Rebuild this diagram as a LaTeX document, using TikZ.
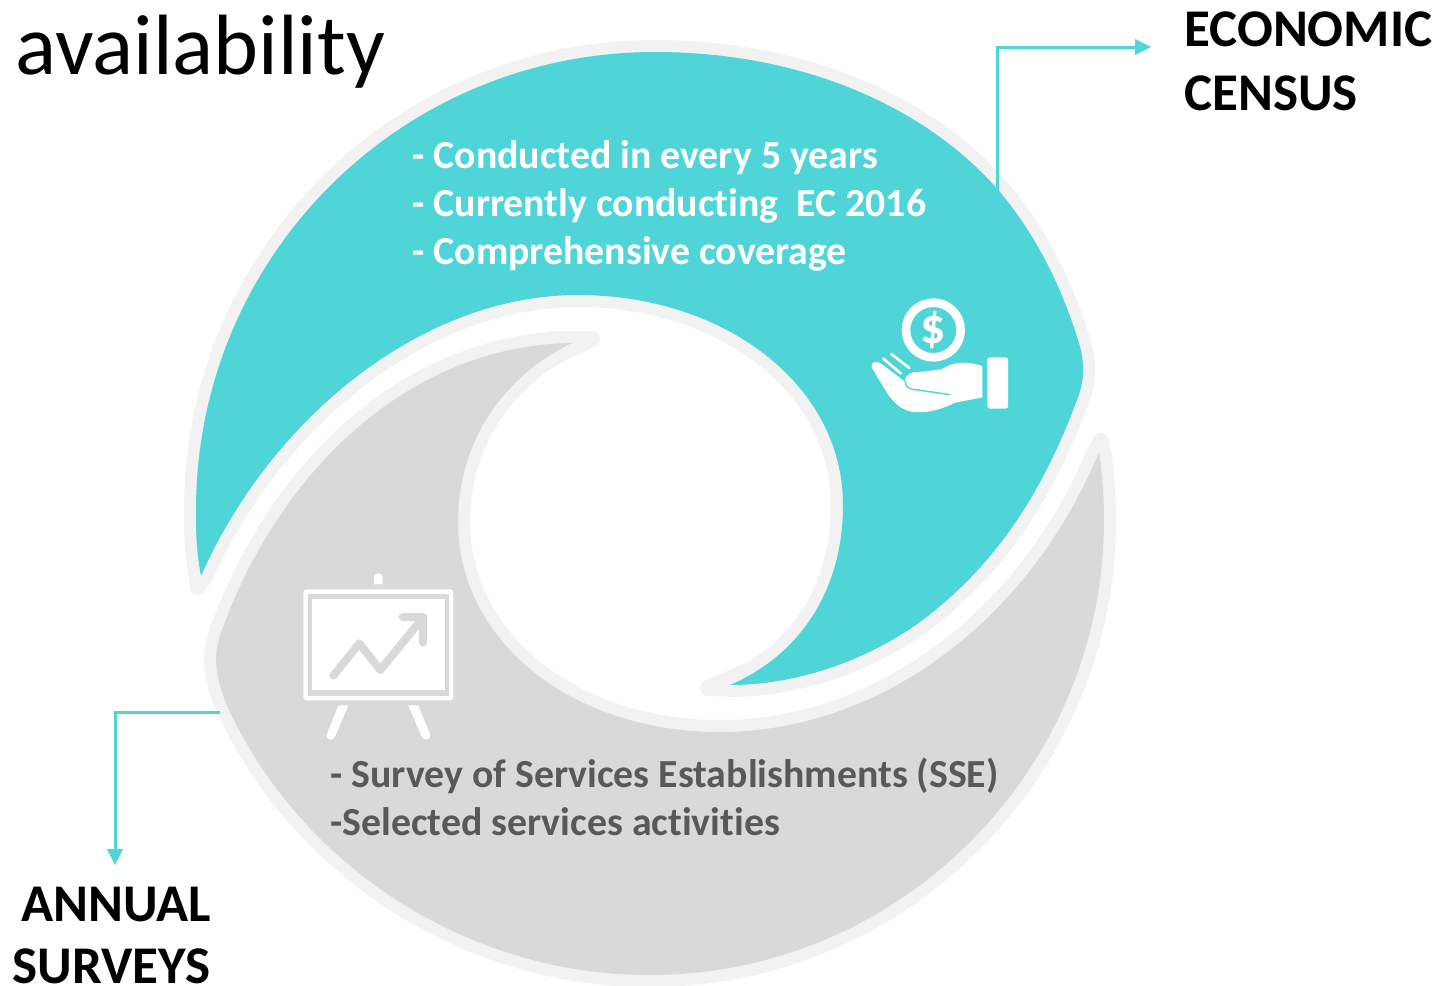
\documentclass[tikz,border=0pt]{standalone}
\usepackage{fontspec}
\setmainfont{Carlito}[Ligatures=NoCommon]
\definecolor{teal1}{HTML}{4FD4D8}
\definecolor{gray1}{HTML}{D9D9D9}
\definecolor{rim}{HTML}{F2F2F2}
\definecolor{txtg}{HTML}{595959}
\tikzset{
  rimline/.style={draw=rim,fill=rim,line width=12pt,line join=round},
  rimtip/.style={draw=rim,fill=rim,line width=8pt,line join=round},
  conn/.style={draw=teal1,line width=1.5pt},
  conntip/.style={fill=teal1,draw=none},
  bodytxt/.style={font=\fontsize{19.9}{24}\selectfont\bfseries,anchor=base west,inner sep=0pt},
  headtxt/.style={font=\fontsize{26.5}{32}\selectfont\bfseries,anchor=base west,inner sep=0pt},
  iconw/.style={fill=white,draw=none},
  chartln/.style={draw=gray1,line width=4pt,line cap=round,line join=round},
}
\def\tealshape{(201,576) .. controls (196,550) and (196,530) .. (196,510)
  .. controls (196,257) and (400,52) .. (655,52)
  .. controls (800,52) and (925,105) .. (1000,192)
  .. controls (1040,240) and (1065,295) .. (1081,350)
  .. controls (1085,370) and (1083,385) .. (1077,400)
  .. controls (1040,500) and (990,570) .. (920,622)
  .. controls (860,665) and (790,685) .. (730,685)
  .. controls (800,655) and (843,590) .. (843,505)
  .. controls (843,385) and (725,295) .. (578,295)
  .. controls (420,295) and (270,420) .. (201,576) -- cycle}
\def\grayshape{(1099,452) .. controls (1103,480) and (1104,500) .. (1104,520)
  .. controls (1104,770) and (900,975) .. (650,975)
  .. controls (460,975) and (300,860) .. (230,712)
  .. controls (215,680) and (212,655) .. (222,630)
  .. controls (280,470) and (410,345) .. (572,343)
  .. controls (505,375) and (458,440) .. (458,522)
  .. controls (458,640) and (570,732) .. (720,732)
  .. controls (880,732) and (1030,620) .. (1099,452) -- cycle}
\begin{document}
\begin{tikzpicture}[x=0.5pt,y=-0.5pt]
\useasboundingbox (0,0) rectangle (1447,986);
\fill[white] (0,0) rectangle (1447,986);
% gray blade
\draw[rimline] \grayshape;
\draw[rimtip] (1101,441) -- (1087,472) -- (1102,480) -- cycle;
\draw[rimtip] (592,339) -- (552,339) -- (548,360) -- cycle;
% teal blade
\draw[rimline] \tealshape;
\draw[rimtip] (198,587) -- (195,560) -- (208,565) -- cycle;
\draw[rimtip] (708,688) -- (745,672) -- (745,688) -- cycle;
\fill[gray1] \grayshape;
\fill[teal1] \tealshape;
% connectors
\coordinate (ecstart) at (997,195);
\coordinate (ecelbow) at (997,47);
\coordinate (ecend) at (1136,47);
\coordinate (asstart) at (220,712);
\coordinate (aselbow) at (115,712);
\coordinate (asend) at (115,850);
\draw[conn] (ecstart) -- (ecelbow) -- (ecend);
\fill[conntip] (1135,39) -- (1151,47) -- (1135,55) -- cycle;
\draw[conn] (asstart) -- (aselbow) -- (asend);
\fill[conntip] (107,849) -- (115,865) -- (123,849) -- cycle;
% texts
\node[anchor=base west,inner sep=0pt,font=\fontsize{42.8}{48}\selectfont] (title) at (15,74) {availability};
\node[headtxt] (ec1) at (1184,46) {ECONOMIC};
\node[headtxt] (ec2) at (1184,110) {CENSUS};
\node[headtxt] (as1) at (21,921) {ANNUAL};
\node[headtxt] (as2) at (12,983) {SURVEYS};
\node[bodytxt,text=white] (t1) at (412,168.5) {- Conducted in every 5 years};
\node[bodytxt,text=white] (t2) at (412,216.5) {- Currently conducting~ EC 2016};
\node[bodytxt,text=white] (t3) at (412,264.5) {- Comprehensive coverage};
\node[bodytxt,text=txtg] (t4) at (330,787.5) {- Survey of Services Establishments (SSE)};
\node[bodytxt,text=txtg] (t5) at (330,835.5) {-Selected services activities};
% money icon (coordinates in zoom units, 3 per pixel)
\begin{scope}[shift={(850,280)},x=0.16667pt,y=-0.16667pt]
  \draw[white,line width=4.3pt] (250,150) circle[radius=82];
  \node[text=white,font=\fontsize{25}{28}\selectfont\bfseries,inner sep=0pt] (dollar) at (250,150) {\$};
  \draw[white,line width=1.3pt,line cap=round] (100,236) -- (152,280);
  \draw[white,line width=1.3pt,line cap=round] (124,222) -- (178,264);
  \fill[iconw] (65,262) .. controls (62,245) and (80,240) .. (95,252)
    -- (165,305) .. controls (165,282) and (185,275) .. (215,275)
    -- (275,268) .. controls (305,248) and (340,240) .. (397,258)
    -- (397,352) -- (315,368) .. controls (280,385) and (230,404) .. (180,394)
    .. controls (150,387) and (130,365) .. (115,345) -- cycle;
  \draw[teal1,line width=0.7pt] (166,303) .. controls (164,322) and (178,328) .. (205,330) -- (300,344);
  \fill[iconw,rounded corners=1.3pt] (412,232) rectangle (474,386);
\end{scope}
% chart icon
\begin{scope}[shift={(280,560)},x=0.16667pt,y=-0.16667pt]
  \fill[iconw,rounded corners=1.5pt] (70,88) rectangle (520,421);
  \fill[gray1] (83,102) rectangle (507,407);
  \fill[iconw] (96,118) rectangle (495,391);
  \draw[chartln] (160,347) -- (238,250) -- (301,330) -- (430,172);
  \draw[chartln] (368,172) -- (430,172) -- (430,248);
  \fill[iconw] (282,73) -- (282,53) arc[start angle=180,end angle=360,radius=13] -- (308,73) -- cycle;
  \fill[iconw] (175,436) -- (205,436) -- (165,530) .. controls (158,545) and (135,540) .. (141,522) -- cycle;
  \fill[iconw] (385,436) -- (415,436) -- (450,522) .. controls (455,540) and (433,545) .. (425,530) -- cycle;
\end{scope}
\end{tikzpicture}
\end{document}
